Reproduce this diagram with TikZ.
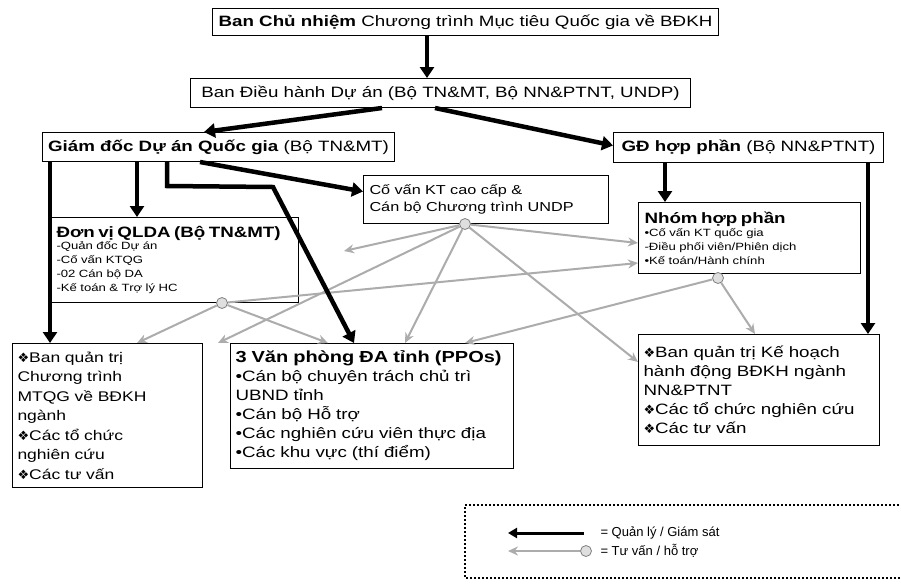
\documentclass[tikz,border=0pt]{standalone}
\usepackage{fontspec}
\setmainfont{Liberation Sans}[FakeStretch=1.25]
\newfontfamily\plainfont{Liberation Sans}
\newfontfamily\symfont{DejaVu Sans}
\usetikzlibrary{arrows.meta}
\newcommand{\dia}{{\symfont\fontsize{13}{13}\selectfont ❖}}

\begin{document}
\begin{tikzpicture}[x=1pt, y=-1pt,
  box/.style={rectangle, draw=black, line width=1pt, inner sep=4pt, anchor=north west, font=\fontsize{15}{17}\selectfont},
  mgmt/.style={-{Triangle[width=14pt,length=11pt]}, line width=4.5pt, black},
  adv/.style={-{Stealth[width=9pt,length=10pt]}, line width=2pt, gray!65},
  hub/.style={circle, draw=gray, line width=0.8pt, fill=gray!25, minimum size=11pt, inner sep=0pt}
]
\clip (0,0) rectangle (901,587);
\fill[white] (0,0) rectangle (901,587);

% upper levels
\node[box, minimum width=506pt, minimum height=27pt] (chunhiem) at (212,8) {\textbf{Ban Chủ nhiệm} Chương trình Mục tiêu Quốc gia về BĐKH};
\node[box, minimum width=500pt, minimum height=29pt] (dieuhanh) at (190,78) {Ban Điều hành Dự án (Bộ TN\&MT, Bộ NN\&PTNT, UNDP)};
\node[box, minimum width=352pt, minimum height=29pt] (giamdoc) at (42,132) {\textbf{Giám đốc Dự án Quốc gia} (Bộ TN\&MT)};
\node[box, minimum width=270pt, minimum height=30pt] (gdhp) at (613,132) {\textbf{GĐ hợp phần} (Bộ NN\&PTNT)};
\node[box, minimum width=245pt, minimum height=48pt, text width=233pt, align=left, font=\fontsize{13}{17}\selectfont] (covan) at (363,175) {Cố vấn KT cao cấp \&\\Cán bộ Chương trình UNDP};

% units
\node[box, minimum width=248pt, minimum height=85pt, text width=236pt, align=left, font=\fontsize{10.5}{14}\selectfont] (qlda) at (50,217)
  {{\fontsize{15}{18}\selectfont\bfseries Đơn vị QLDA (Bộ TN\&MT)}\\[-2pt]-Quản đốc Dự án\\-Cố vấn KTQG\\-02 Cán bộ DA\\-Kế toán \& Trợ lý HC};
\node[box, minimum width=222pt, minimum height=71pt, text width=210pt, align=left, font=\fontsize{10.5}{14}\selectfont] (nhom) at (638,202)
  {{\fontsize{15}{18}\selectfont\bfseries Nhóm hợp phần}\\[-1pt]•Cố vấn KT quốc gia\\-Điều phối viên/Phiên dịch\\•Kế toán/Hành chính};

% bottom row
\node[box, minimum width=190pt, minimum height=144pt, text width=180pt, align=left, font=\fontsize{14}{19.5}\selectfont] (nganh) at (12,343)
  {\dia Ban quản trị\\Chương trình\\MTQG về BĐKH\\ngành\\\dia Các tổ chức\\nghiên cứu\\\dia Các tư vấn};
\node[box, minimum width=283pt, minimum height=125pt, text width=273pt, align=left, font=\fontsize{15}{19}\selectfont] (ppo) at (230,343)
  {{\fontsize{16}{19}\selectfont\bfseries 3 Văn phòng ĐA tỉnh (PPOs)}\\•Cán bộ chuyên trách chủ trì\\UBND tỉnh\\•Cán bộ Hỗ trợ\\•Các nghiên cứu viên thực địa\\•Các khu vực (thí điểm)};
\node[box, minimum width=241pt, minimum height=111pt, text width=231pt, align=left, font=\fontsize{15}{19}\selectfont] (nnptnt) at (638,334)
  {\dia Ban quản trị Kế hoạch\\hành động BĐKH ngành\\NN\&PTNT\\\dia Các tổ chức nghiên cứu\\\dia Các tư vấn};

% advice hubs
\node[hub] (cvdot) at ([xshift=102pt]covan.south west) {};
\node[hub] (qldot) at ([xshift=172pt]qlda.south west) {};
\node[hub] (nhdot) at ([xshift=80pt,yshift=-4pt]nhom.south west) {};

% advice / support
\draw[adv] (cvdot) -- ([xshift=45pt,yshift=9pt]qlda.east);
\draw[adv] (cvdot) -- ([yshift=-5pt]nhom.west);
\draw[adv] (cvdot) -- ([xshift=15pt]nganh.north east);
\draw[adv] (cvdot) -- ([xshift=175pt]ppo.north west);
\draw[adv] (cvdot) -- ([yshift=28pt]nnptnt.west);
\draw[adv] (qldot) -- ([xshift=125pt]nganh.north west);
\draw[adv] (qldot) -- ([xshift=98pt]ppo.north west);
\draw[adv] (qldot) -- ([yshift=-25pt]nhom.west);
\draw[adv] (nhdot) -- ([xshift=117pt]nnptnt.north west);
\draw[adv] (nhdot) -- ([xshift=235pt]ppo.north west);

% management / supervision
\draw[mgmt] ([xshift=215pt]chunhiem.south west) -- ([xshift=237pt]dieuhanh.north west);
\draw[mgmt] ([xshift=192pt]dieuhanh.south west) -- ([xshift=162pt]giamdoc.north west);
\draw[mgmt] ([xshift=245pt]dieuhanh.south west) -- ([yshift=2pt]gdhp.west);
\draw[mgmt] ([xshift=8pt]giamdoc.south west) -- ([xshift=38pt]nganh.north west);
\draw[mgmt] ([xshift=95pt]giamdoc.south west) -- ([xshift=87pt]qlda.north west);
\draw[mgmt] ([xshift=125pt]giamdoc.south west) -- ++(0,24) -- ++(106,1) -- ([xshift=124pt]ppo.north west);
\draw[mgmt] ([xshift=158pt]giamdoc.south west) -- ([yshift=8pt]covan.west);
\draw[mgmt] ([xshift=52pt]gdhp.south west) -- ([xshift=27pt]nhom.north west);
\draw[mgmt] ([xshift=255pt]gdhp.south west) -- ([xshift=230pt]nnptnt.north west);

% legend
\draw[line width=2pt, dotted] (915,505) -- (465,505) -- (465,578) -- (915,578);
\coordinate (lgmA) at (584,533);
\coordinate (lgmB) at (508,533);
\node[hub] (lgdot) at (586,551) {};
\coordinate (lgaB) at (508,551);
\draw[mgmt, line width=3pt, -{Triangle[width=10pt,length=9pt]}] (lgmA) -- (lgmB);
\draw[adv] (lgdot) -- (lgaB);
\node[anchor=west, font=\plainfont\fontsize{13}{15}\selectfont] (lgtxtA) at (597,533) {= Quản lý / Giám sát};
\node[anchor=west, font=\plainfont\fontsize{13}{15}\selectfont] (lgtxtB) at (597,551) {= Tư vấn / hỗ trợ};
\end{tikzpicture}
\end{document}
